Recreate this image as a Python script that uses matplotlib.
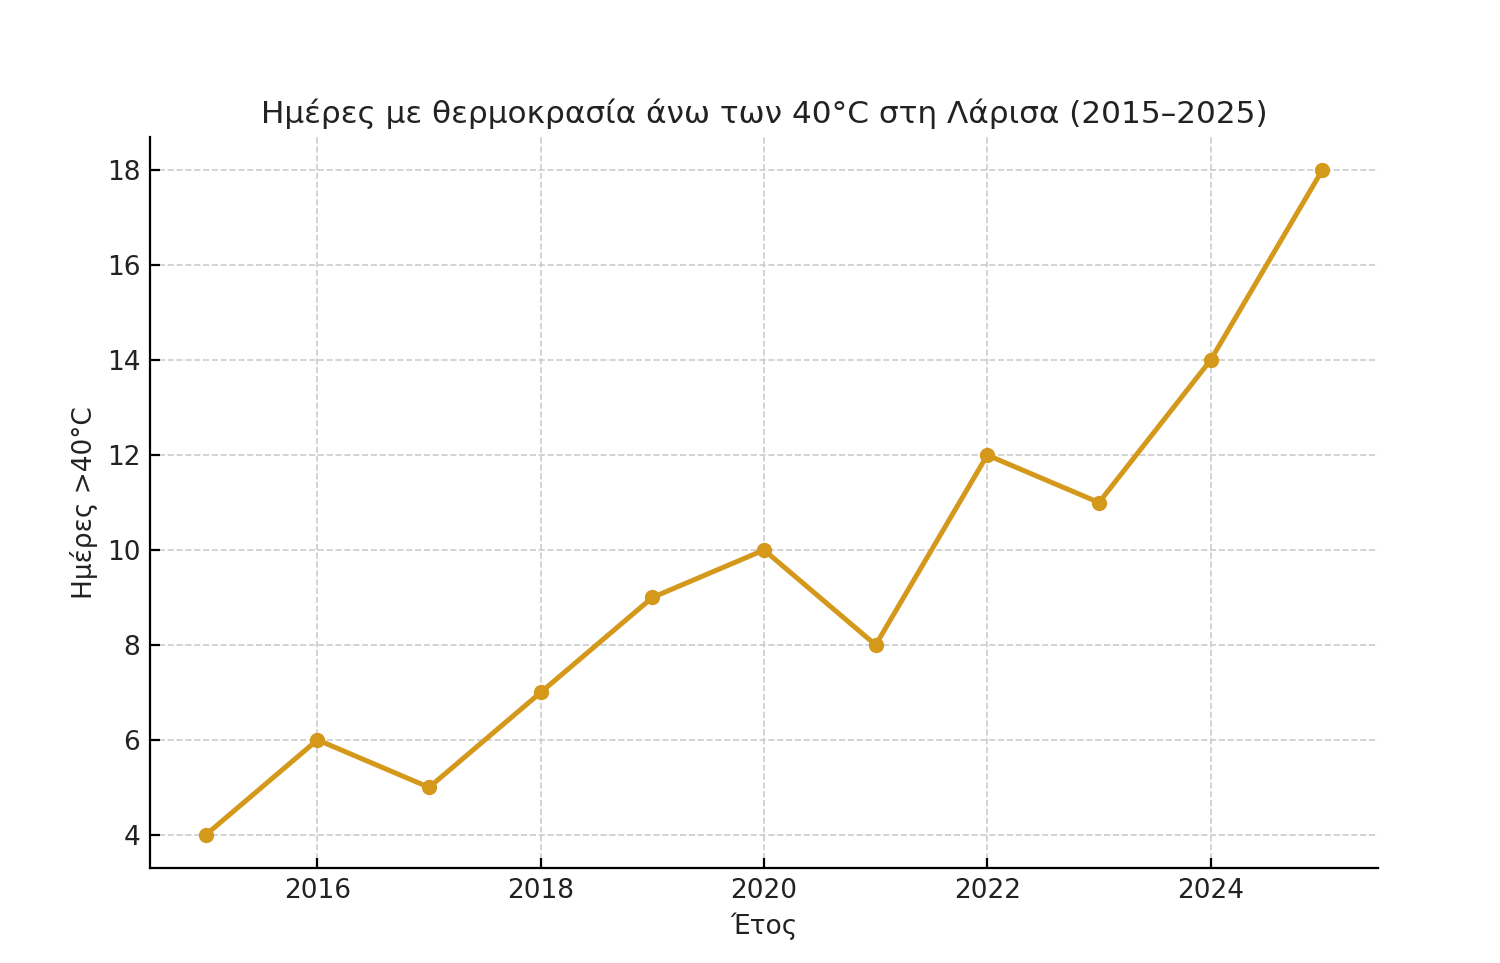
import matplotlib.pyplot as plt

years = [2015, 2016, 2017, 2018, 2019, 2020, 2021, 2022, 2023, 2024, 2025]
days_over_40 = [4, 6, 5, 7, 9, 10, 8, 12, 11, 14, 18]

plt.rcParams['font.family'] = ['DejaVu Sans']

fig = plt.figure(figsize=(7.5, 4.815), dpi=200)
ax = fig.add_axes([0.1, 0.0986, 0.8187, 0.7591])

ax.plot(years, days_over_40, marker='o', color='#d4981a', linewidth=1.8, markersize=4.5)

ax.set_title('Ημέρες με θερμοκρασία άνω των 40°C στη Λάρισα (2015–2025)',
             fontsize=11.2, color='#222222', pad=5)
ax.set_xlabel('Έτος', fontsize=9.5, color='#222222', labelpad=3)
ax.set_ylabel('Ημέρες >40°C', fontsize=9.5, color='#222222', labelpad=3)

ax.grid(True, linestyle='--', color='#cccccc', linewidth=0.6)
ax.set_axisbelow(True)
ax.spines['top'].set_visible(False)
ax.spines['right'].set_visible(False)
ax.tick_params(direction='in', labelsize=9.5, labelcolor='#222222')

fig.savefig('out.png', dpi=200)
